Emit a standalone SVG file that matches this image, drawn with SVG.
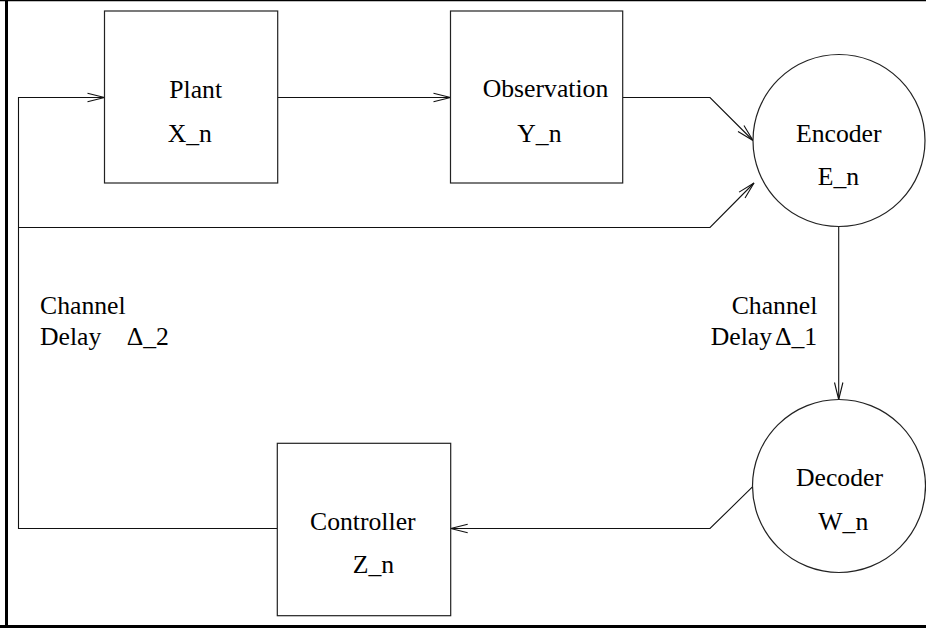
<svg xmlns="http://www.w3.org/2000/svg" width="926" height="628" viewBox="0 0 926 628">
  <style>
    .box { fill: #fff; stroke: #222; stroke-width: 1.2; }
    .wire { fill: none; stroke: #111; stroke-width: 1.1; }
    .lbl { font-family: 'Liberation Serif', 'Times New Roman', Times, 'DejaVu Serif', serif; font-size: 25.7px; fill: #000; }
    .frame { stroke: #000; fill: none; }
  </style>
  <defs>
    <marker id="arrow" markerUnits="userSpaceOnUse" markerWidth="20" markerHeight="12" refX="0" refY="0" viewBox="-19 -6 20 12" orient="auto" overflow="visible">
      <path d="M -17,-4.2 L 0,0 L -17,4.2" fill="none" stroke="#111" stroke-width="1.1"/>
    </marker>
  </defs>

  <rect width="926" height="628" fill="#fff"/>

  <!-- outer frame (left, top, bottom edges) -->
  <g id="frame">
    <line class="frame" x1="6.5" y1="0" x2="6.5" y2="628" stroke-width="3"/>
    <line class="frame" x1="0" y1="0.5" x2="926" y2="0.5" stroke-width="1.5"/>
    <line class="frame" x1="0" y1="626.5" x2="926" y2="626.5" stroke-width="3"/>
  </g>

  <!-- connectors -->
  <g id="connectors">
    <!-- plant -> observation -->
    <path class="wire" d="M 277.7,97.5 L 450.5,97.5" marker-end="url(#arrow)"/>
    <!-- observation -> encoder -->
    <path class="wire" d="M 622.7,97.5 L 710,97.5 L 753,140.5" marker-end="url(#arrow)"/>
    <!-- encoder -> decoder (channel delay 1) -->
    <path class="wire" d="M 838.7,226.5 L 838.7,399.5" marker-end="url(#arrow)"/>
    <!-- decoder -> controller -->
    <path class="wire" d="M 752.7,486.7 L 710,528.5 L 450.7,528.5" marker-end="url(#arrow)"/>
    <!-- controller -> plant (channel delay 2) -->
    <path class="wire" d="M 277.3,528.5 L 18.5,528.5 L 18.5,97.5 L 104.5,97.5" marker-end="url(#arrow)"/>
    <!-- feedback tap -> encoder -->
    <path class="wire" d="M 18.5,227.5 L 710,227.5 L 754,183" marker-end="url(#arrow)"/>
  </g>

  <g id="plant">
    <rect class="box" x="104.5" y="11" width="173.2" height="172"/>
    <text class="lbl" x="169.3" y="98">Plant</text>
    <text class="lbl" x="167.7" y="142">X_n</text>
  </g>

  <g id="observation">
    <rect class="box" x="450.5" y="11" width="172.2" height="172"/>
    <text class="lbl" x="482.7" y="97.3">Observation</text>
    <text class="lbl" x="517.3" y="141.7">Y_n</text>
  </g>

  <g id="encoder">
    <circle class="box" cx="839" cy="140.5" r="86"/>
    <text class="lbl" x="796" y="141.7">Encoder</text>
    <text class="lbl" x="817.7" y="185">E_n</text>
  </g>

  <g id="decoder">
    <circle class="box" cx="839" cy="486" r="86.5"/>
    <text class="lbl" x="796" y="485.7">Decoder</text>
    <text class="lbl" x="818.3" y="530">W_n</text>
  </g>

  <g id="controller">
    <rect class="box" x="277.3" y="443.3" width="173.4" height="172.4"/>
    <text class="lbl" x="310" y="530">Controller</text>
    <text class="lbl" x="352.7" y="573.3">Z_n</text>
  </g>

  <g id="channel-1">
    <text class="lbl" x="731.7" y="314.3">Channel</text>
    <text class="lbl" x="710.7" y="345">Delay</text>
    <text class="lbl" x="775" y="345">Δ_1</text>
  </g>

  <g id="channel-2">
    <text class="lbl" x="40" y="314.3">Channel</text>
    <text class="lbl" x="40" y="345">Delay</text>
    <text class="lbl" x="126.7" y="345">Δ_2</text>
  </g>
</svg>
